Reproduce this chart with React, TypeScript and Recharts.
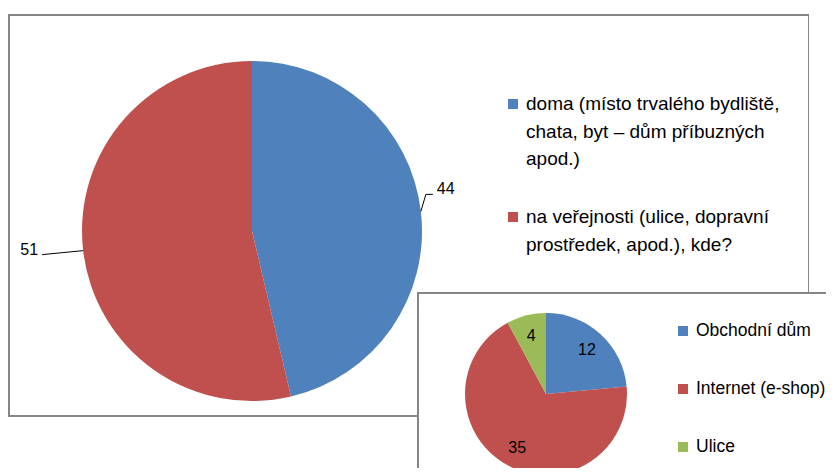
import React from 'react';
import { PieChart, Pie, Cell } from 'recharts';

// main chart: where it happened
const mainNames = [
  'doma (místo trvalého bydliště,\nchata, byt – dům příbuzných\napod.)',
  'na veřejnosti (ulice, dopravní\nprostředek, apod.), kde?',
];
const mainValues = [44, 51];

// inset chart: "kde?" breakdown
const subNames = ['Obchodní dům', 'Internet (e-shop)', 'Ulice'];
const subValues = [12, 35, 4];

const colors = ['#4F81BD', '#C0504D', '#9BBB59'];

const mainData = mainNames.map((name, i) => ({ name, value: mainValues[i] }));
const subData = subNames.map((name, i) => ({ name, value: subValues[i] }));

const FONT = '"Liberation Sans", Arial, sans-serif';
const RAD = Math.PI / 180;
const frameColor = '#868686';

const renderMainLabel = (p: any) => {
  const { cx, cy, outerRadius, midAngle, value, index } = p;
  const sx = cx + outerRadius * Math.cos(-midAngle * RAD);
  const sy = cy + outerRadius * Math.sin(-midAngle * RAD);
  if (index === 0) {
    const ex = sx + 5;
    const ey = sy - 17;
    return (
      <g>
        <polyline points={`${sx},${sy} ${ex},${ey} ${ex + 7},${ey}`} fill="none" stroke="#000" strokeWidth={1} />
        <text x={ex + 11} y={ey} dy={-0.5} fontSize={16} fontFamily={FONT} fill="#000">{value}</text>
      </g>
    );
  }
  const ex = sx - 41;
  const ey = sy + 4;
  return (
    <g>
      <polyline points={`${sx},${sy} ${ex},${ey}`} fill="none" stroke="#000" strokeWidth={1} />
      <text x={ex - 4} y={ey} dy={0.5} textAnchor="end" fontSize={16} fontFamily={FONT} fill="#000">{value}</text>
    </g>
  );
};

const renderSubLabel = (p: any) => {
  const { cx, cy, outerRadius, midAngle, value } = p;
  const r = outerRadius * 0.75;
  const x = cx + r * Math.cos(-midAngle * RAD);
  const y = cy + r * Math.sin(-midAngle * RAD);
  return (
    <text x={x} y={y} textAnchor="middle" dominantBaseline="central" fontSize={16} fontFamily={FONT} fill="#000">
      {value}
    </text>
  );
};

const LegendItem = ({ color, text, size, style }: { color: string; text: string; size: number; style: React.CSSProperties }) => (
  <div style={{ position: 'absolute', display: 'flex', alignItems: 'flex-start', ...style }}>
    <div style={{ width: 10, height: 10, background: color, marginTop: 9, marginRight: 8, flexShrink: 0 }} />
    <div style={{ whiteSpace: 'pre-line', fontSize: size, lineHeight: '27.5px', color: '#000', fontFamily: FONT }}>{text}</div>
  </div>
);

export default function App() {
  return (
    <div style={{ position: 'relative', width: 834, height: 476, margin: -8, overflow: 'hidden', background: '#fff' }}>
      {/* main chart frame */}
      <div
        style={{
          position: 'absolute', left: 8, top: 14, width: 801, height: 403, boxSizing: 'border-box',
          borderTop: `2px solid ${frameColor}`, borderLeft: `2px solid ${frameColor}`,
          borderRight: `1px solid ${frameColor}`, borderBottom: `2px solid ${frameColor}`,
        }}
      />
      <div style={{ position: 'absolute', left: 0, top: 0 }}>
        <PieChart width={834} height={420} margin={{ top: 0, right: 0, bottom: 0, left: 0 }}>
          <Pie
            data={mainData}
            dataKey="value"
            cx={252}
            cy={231}
            outerRadius={170}
            startAngle={90}
            endAngle={-270}
            stroke="none"
            label={renderMainLabel}
            labelLine={false}
            isAnimationActive={false}
          >
            {mainData.map((d, i) => (
              <Cell key={d.name} fill={colors[i]} />
            ))}
          </Pie>
        </PieChart>
      </div>
      {mainData.map((d, i) => (
        <LegendItem key={d.name} color={colors[i]} text={d.name} size={19} style={{ left: 508, top: 90 + i * 113 }} />
      ))}

      {/* inset chart */}
      <div
        style={{
          position: 'absolute', left: 417, top: 292, width: 430, height: 200, boxSizing: 'border-box', background: '#fff',
          borderTop: `2px solid ${frameColor}`, borderLeft: `2px solid ${frameColor}`,
        }}
      >
        <PieChart width={420} height={190} margin={{ top: 0, right: 0, bottom: 0, left: 0 }}>
          <Pie
            data={subData}
            dataKey="value"
            cx={127}
            cy={100}
            outerRadius={81}
            startAngle={90}
            endAngle={-270}
            stroke="none"
            label={renderSubLabel}
            labelLine={false}
            isAnimationActive={false}
          >
            {subData.map((d, i) => (
              <Cell key={d.name} fill={colors[i]} />
            ))}
          </Pie>
        </PieChart>
        {subData.map((d, i) => (
          <LegendItem key={d.name} color={colors[i]} text={d.name} size={17.5} style={{ left: 259, top: 23 + i * 58 }} />
        ))}
      </div>
    </div>
  );
}
